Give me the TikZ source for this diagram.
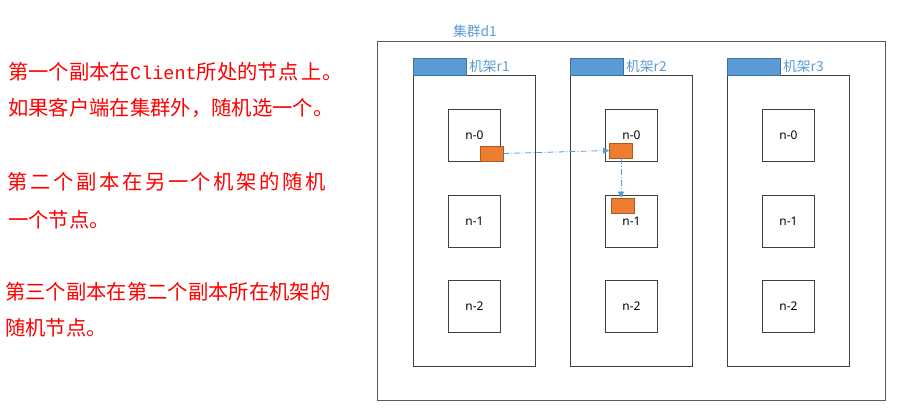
\documentclass[tikz,border=0pt]{standalone}
\usepackage{fontspec}
\newfontfamily\cjk{Noto Sans CJK SC}
\newfontfamily\monolat{Liberation Mono}
\setmainfont{Noto Sans}
\usetikzlibrary{arrows.meta}
\definecolor{tabblue}{HTML}{5B9BD5}
\definecolor{tabedge}{HTML}{41719C}
\definecolor{orng}{HTML}{ED7D31}
\definecolor{orngedge}{HTML}{AE5A21}
\definecolor{boxedge}{HTML}{404040}
\definecolor{clusteredge}{HTML}{5A5A5A}
\definecolor{noteRed}{HTML}{FF0000}
\tikzset{
  cluster/.style={draw=clusteredge, line width=1bp, anchor=north west, inner sep=0pt},
  rackbody/.style={draw=boxedge, line width=0.9bp, anchor=north west, minimum width=122bp, minimum height=291bp, inner sep=0pt},
  racktab/.style={draw=tabedge, fill=tabblue, line width=0.9bp, anchor=north west, minimum width=53bp, minimum height=17bp, inner sep=0pt},
  hnode/.style={draw=boxedge, line width=0.9bp, anchor=north west, minimum width=52bp, minimum height=52bp, inner sep=0pt, font=\fontsize{12}{14}\selectfont},
  replica/.style={draw=orngedge, fill=orng, line width=0.6bp, minimum width=23bp, minimum height=15bp, inner sep=0pt},
  bluelabel/.style={text=tabblue, anchor=west, inner sep=0pt, font=\cjk\fontsize{13.8}{15}\selectfont},
  note/.style={text=noteRed, anchor=west, inner sep=0pt, font=\cjk\fontsize{20.4}{24}\selectfont},
  flow/.style={draw=tabblue, line width=0.8bp, dash pattern=on 6bp off 2bp on 1bp off 2bp, -{Triangle[length=6bp,width=6bp]}}
}
\begin{document}
\begin{tikzpicture}[x=1bp,y=-1bp]
\useasboundingbox (0,0) rectangle (897,410);
\fill[white] (0,0) rectangle (897,410);
% cluster
\node[cluster, minimum width=508bp, minimum height=359bp] (cl) at (377,41) {};
\node[bluelabel] (cllab) at (453,31) {集群d1};
% racks
\foreach \r/\x in {1/413,2/570,3/727}{
  \node[rackbody] (rack\r) at (\x,75) {};
  \node[racktab] (tab\r) at (\x,58) {};
  \node[bluelabel] (lab\r) at (\x+56,66) {机架r\r};
  \foreach \n/\y in {0/109,1/195,2/280}{
    \node[hnode] (h\r\n) at (\x+35,\y) {n-\n};
  }
}
% replicas
\node[replica] (o1) at (491.5,153.5) {};
\node[replica] (o2) at (621,150.5) {};
\node[replica] (o3) at (622.5,205.5) {};
\draw[flow] (o1.east) -- (o2.west);
\draw[flow] (o2.south) -- (o2.south |- o3.north);
% notes
\node[note] (t1) at (8,72) {第一个副本在{\monolat\fontsize{18.6}{24}\selectfont Client}所处的节点\,上。};
\node[note] (t2) at (8,108) {如果客户端在集群外，随机选一个。};
\node[note] (t3) at (7,182) {\makebox[319bp][s]{第\hfill 二\hfill 个\hfill 副\hfill 本\hfill 在\hfill 另\hfill 一\hfill 个\hfill 机\hfill 架\hfill 的\hfill 随\hfill 机}};
\node[note] (t4) at (8,220) {一个节点。};
\node[note] (t5) at (5,292) {第三个副本在第二个副本所在机架的};
\node[note] (t6) at (5,328) {随机节点。};
\end{tikzpicture}
\end{document}
